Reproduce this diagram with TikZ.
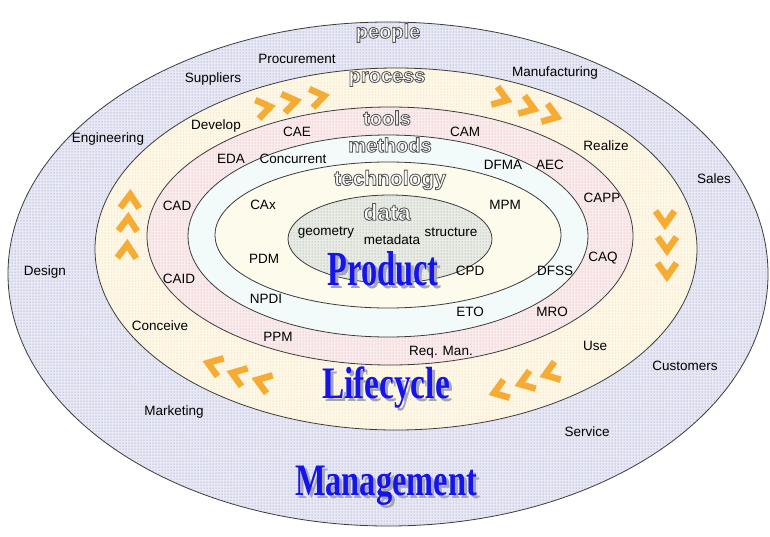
\documentclass[tikz,border=0pt]{standalone}
\usepackage{fontspec}
\setmainfont{Liberation Sans}
\newfontfamily\bigserif{Liberation Serif}
\usetikzlibrary{patterns}

\definecolor{peoplec}{RGB}{232,233,244}
\definecolor{peopled}{RGB}{125,135,185}
\definecolor{processc}{RGB}{253,248,232}
\definecolor{processd}{RGB}{238,200,140}
\definecolor{toolsc}{RGB}{250,236,236}
\definecolor{toolsd}{RGB}{222,160,168}
\definecolor{methodsc}{RGB}{243,250,250}
\definecolor{techc}{RGB}{252,251,236}
\definecolor{datac}{RGB}{232,236,228}
\definecolor{datad}{RGB}{145,155,145}
\definecolor{edgec}{RGB}{60,60,60}
\definecolor{chevc}{RGB}{246,172,52}
\definecolor{bigblue}{RGB}{20,20,235}
\definecolor{shadowc}{RGB}{165,165,175}

\tikzset{
  ring/.style={draw=edgec, line width=0.8pt},
  lab/.style={font=\fontsize{13.5}{15}\selectfont, inner sep=0pt},
  ringlab/.style={font=\fontsize{20}{22}\selectfont\bfseries, inner sep=0pt},
  bigtxt/.style={text=bigblue, inner sep=0pt, anchor=base},
  bigshadow/.style={text=shadowc, inner sep=0pt, anchor=base},
  chevline/.style={draw=chevc, line width=6.5pt, line join=miter, line cap=butt},
  chev/.pic={\draw[chevline] (-7,9.5) -- (6.5,0) -- (-7,-9.5);}
}
% hollow (outlined) lettering: white fill, grey stroke
\newcommand{\ringword}[1]{\textcolor{white}{\special{pdf:literal direct 2 Tr 0.85 w 0.33 0.33 0.33 RG 1 1 1 rg}#1\special{pdf:literal direct 0 Tr}}}

\begin{document}
\begin{tikzpicture}[x=1pt,y=1pt]
\useasboundingbox (0,0) rectangle (770,-536);
\fill[white] (0,0) rectangle (770,-536);

% rings
\path[fill=peoplec] (388,-274) ellipse [x radius=380pt, y radius=252pt];
\path[pattern=dots, pattern color=peopled] (388,-274) ellipse [x radius=380pt, y radius=252pt];
\path[ring] (388,-274) ellipse [x radius=380pt, y radius=252pt];

\path[fill=processc] (396,-249) ellipse [x radius=301pt, y radius=181pt];
\path[pattern=dots, pattern color=processd] (396,-249) ellipse [x radius=301pt, y radius=181pt];
\path[ring] (396,-249) ellipse [x radius=301pt, y radius=181pt];

\path[fill=toolsc] (390,-236) ellipse [x radius=243pt, y radius=129pt];
\path[pattern=dots, pattern color=toolsd] (390,-236) ellipse [x radius=243pt, y radius=129pt];
\path[ring] (390,-236) ellipse [x radius=243pt, y radius=129pt];

\path[ring, fill=methodsc] (388,-236) ellipse [x radius=200pt, y radius=101pt];

\path[ring, fill=techc] (388,-235) ellipse [x radius=173pt, y radius=73pt];

\path[fill=datac] (390,-239) ellipse [x radius=102pt, y radius=44pt];
\path[pattern=dots, pattern color=datad] (390,-239) ellipse [x radius=102pt, y radius=44pt];
\path[ring] (390,-239) ellipse [x radius=102pt, y radius=44pt];

% ring titles
\node[ringlab] (tpeople) at (388,-33) {\ringword{people}};
\node[ringlab] (tprocess) at (387,-79) {\ringword{process}};
\node[ringlab] (ttools) at (387,-118) {\ringword{tools}};
\node[ringlab] (tmethods) at (390,-145) {\ringword{methods}};
\node[ringlab, font=\fontsize{21}{23}\selectfont\bfseries] (ttech) at (390,-180) {\ringword{technology}};
\node[ringlab, font=\fontsize{23}{25}\selectfont\bfseries] (tdata) at (387,-212) {\ringword{data}};

% chevrons
\pic[rotate=11] at (264,-108) {chev};
\pic[rotate=11] at (290,-102) {chev};
\pic[rotate=11] at (318,-97) {chev};
\pic[rotate=-19] at (501,-98) {chev};
\pic[rotate=-19] at (528,-107) {chev};
\pic[rotate=-19] at (551,-115) {chev};
\pic[rotate=-90] at (665,-218) {chev};
\pic[rotate=-90] at (667,-244) {chev};
\pic[rotate=-90] at (667,-270) {chev};
\pic[rotate=199] at (551,-373) {chev};
\pic[rotate=199] at (526,-382) {chev};
\pic[rotate=199] at (500,-391) {chev};
\pic[rotate=161] at (263,-382) {chev};
\pic[rotate=161] at (238,-375) {chev};
\pic[rotate=161] at (214,-365) {chev};
\pic[rotate=88] at (127,-251) {chev};
\pic[rotate=88] at (128,-224) {chev};
\pic[rotate=88] at (130,-201) {chev};

% people ring labels
\node[lab] (procurement) at (297,-59) {Procurement};
\node[lab] (suppliers) at (213,-79) {Suppliers};
\node[lab] (manufacturing) at (555,-73) {Manufacturing};
\node[lab] (engineering) at (108,-139) {Engineering};
\node[lab] (sales) at (714,-179) {Sales};
\node[lab] (design) at (45,-272) {Design};
\node[lab] (customers) at (685,-366) {Customers};
\node[lab] (marketing) at (174,-412) {Marketing};
\node[lab] (service) at (587,-432) {Service};

% process ring labels
\node[lab] (develop) at (216,-126) {Develop};
\node[lab] (realize) at (606,-146) {Realize};
\node[lab] (conceive) at (160,-326) {Conceive};
\node[lab] (use) at (595,-346) {Use};

% tools ring labels
\node[lab] (cae) at (297,-132) {CAE};
\node[lab] (cam) at (465,-132) {CAM};
\node[lab] (eda) at (231,-159) {EDA};
\node[lab] (aec) at (550,-165) {AEC};
\node[lab] (cad) at (177,-206) {CAD};
\node[lab] (capp) at (602,-198) {CAPP};
\node[lab] (caq) at (603,-258) {CAQ};
\node[lab] (caid) at (179,-279) {CAID};
\node[lab] (ppm) at (278,-337) {PPM};
\node[lab] (reqman) at (441,-352) {Req. Man.};
\node[lab] (dfss) at (555,-271) {DFSS};
\node[lab] (mro) at (552,-312) {MRO};

% methods ring labels
\node[lab] (concurrent) at (293,-159) {Concurrent};
\node[lab] (dfma) at (503,-165) {DFMA};
\node[lab] (eto) at (470,-312) {ETO};

% technology ring labels
\node[lab] (cax) at (263,-205) {CAx};
\node[lab] (mpm) at (505,-205) {MPM};
\node[lab] (pdm) at (264,-259) {PDM};
\node[lab] (cpd) at (470,-271) {CPD};
\node[lab] (npdi) at (266,-299) {NPDI};

% data labels
\node[lab] (geometry) at (326,-233) {geometry};
\node[lab] (metadata) at (392,-240) {metadata};
\node[lab] (structure) at (451,-232) {structure};

% big words (grey drop shadow, then blue)
\node[bigshadow, font=\bigserif\bfseries\fontsize{49}{51}\selectfont] (productsh) at (386,-288) {\scalebox{0.66}[1]{Product}};
\node[bigtxt, font=\bigserif\bfseries\fontsize{49}{51}\selectfont] (product) at (383,-285) {\scalebox{0.66}[1]{Product}};
\node[bigshadow, font=\bigserif\bfseries\fontsize{45}{47}\selectfont] (lifecyclesh) at (389,-401) {\scalebox{0.74}[1]{Lifecycle}};
\node[bigtxt, font=\bigserif\bfseries\fontsize{45}{47}\selectfont] (lifecycle) at (386,-398) {\scalebox{0.74}[1]{Lifecycle}};
\node[bigshadow, font=\bigserif\bfseries\fontsize{45}{47}\selectfont] (managementsh) at (389,-498) {\scalebox{0.72}[1]{Management}};
\node[bigtxt, font=\bigserif\bfseries\fontsize{45}{47}\selectfont] (management) at (386,-495) {\scalebox{0.72}[1]{Management}};
\end{tikzpicture}
\end{document}
